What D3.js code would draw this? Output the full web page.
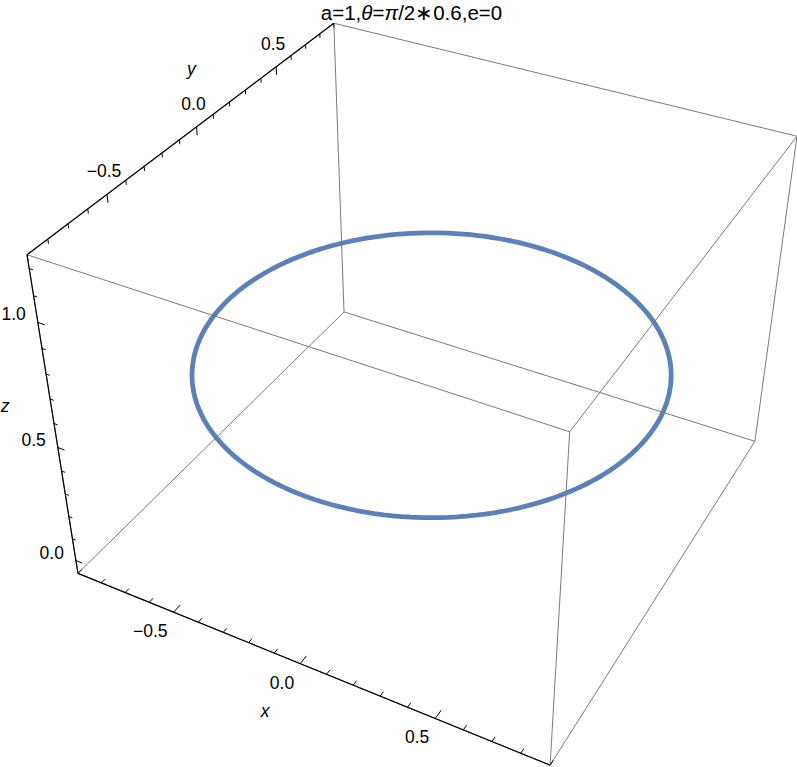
<!DOCTYPE html>
<html>
<head>
<meta charset="utf-8">
<script src="https://cdn.jsdelivr.net/npm/d3@7"></script>
<style>
  body { margin: 0; background: #fff; }
  text { font-family: "Liberation Sans", Arial, Helvetica, sans-serif; fill: #000; }
</style>
</head>
<body>
<div id="chart"></div>
<script>
// Title and curve parameters
const title = "a=1,θ=π/2∗0.6,e=0";
const a = 1;
const theta = Math.PI / 2 * 0.6;

// Plot ranges of the box
const xDomain = [-0.9, 0.9];
const yDomain = [-0.9, 0.9];
const zDomain = [-0.06, 1.25];

// Labelled ticks
const xMajor = [-0.5, 0.0, 0.5];
const yMajor = [-0.5, 0.0, 0.5];
const zMajor = [0.0, 0.5, 1.0];
const minorStep = 0.1;

// Ring: radius and height on the sphere of radius a
const ringRadius = a * Math.sin(theta);
const ringHeight = a * Math.cos(theta);

const width = 797, height = 767;

// where the 8 box corners land on screen (camera calibration)
const boxAnchors = [
  { c: [0, 0, 0], p: [78, 573.3] },
  { c: [1, 0, 0], p: [550, 765] },
  { c: [0, 1, 0], p: [344, 311.7] },
  { c: [1, 1, 0], p: [755, 441.7] },
  { c: [0, 0, 1], p: [26.8, 255] },
  { c: [1, 0, 1], p: [570, 431.7] },
  { c: [0, 1, 1], p: [334, 23.3] },
  { c: [1, 1, 1], p: [796.7, 136] }
];

const x = d3.scaleLinear().domain(xDomain).range([0, 1]);
const y = d3.scaleLinear().domain(yDomain).range([0, 1]);
const z = d3.scaleLinear().domain(zDomain).range([0, 1]);

// fit a 3x4 perspective matrix to the anchors (least squares)
function solve(A, b) {
  const n = b.length;
  const M = A.map((row, i) => row.concat([b[i]]));
  for (let c = 0; c < n; c++) {
    let p = c;
    for (let r = c + 1; r < n; r++) if (Math.abs(M[r][c]) > Math.abs(M[p][c])) p = r;
    [M[c], M[p]] = [M[p], M[c]];
    for (let r = 0; r < n; r++) {
      if (r === c) continue;
      const f = M[r][c] / M[c][c];
      for (let k = c; k <= n; k++) M[r][k] -= f * M[c][k];
    }
  }
  return M.map((row, i) => row[n] / row[i]);
}

const rows = [], rhs = [];
boxAnchors.forEach(({ c, p }) => {
  const [X, Y, Z] = c, [u, v] = p;
  rows.push([X, Y, Z, 1, 0, 0, 0, 0, -u * X, -u * Y, -u * Z]); rhs.push(u);
  rows.push([0, 0, 0, 0, X, Y, Z, 1, -v * X, -v * Y, -v * Z]); rhs.push(v);
});
const AtA = d3.range(11).map(i => d3.range(11).map(j => d3.sum(rows, r => r[i] * r[j])));
const Atb = d3.range(11).map(i => d3.sum(rows, (r, k) => r[i] * rhs[k]));
const P = solve(AtA, Atb);

function projN(X, Y, Z) {
  const w = P[8] * X + P[9] * Y + P[10] * Z + 1;
  return [(P[0] * X + P[1] * Y + P[2] * Z + P[3]) / w,
          (P[4] * X + P[5] * Y + P[6] * Z + P[7]) / w];
}
const project = (px, py, pz) => projN(x(px), y(py), z(pz));

const svg = d3.select("#chart").append("svg")
  .attr("width", width)
  .attr("height", height);

const line = d3.line();

// the ring
const ring = d3.range(0, 361, 2).map(t => {
  const ph = t * Math.PI / 180;
  return project(ringRadius * Math.cos(ph), ringRadius * Math.sin(ph), ringHeight);
});
svg.append("path")
  .attr("d", line(ring))
  .attr("fill", "none")
  .attr("stroke", "#5E81B5")
  .attr("stroke-width", 4.8)
  .attr("stroke-linejoin", "round");

// box edges
const edges = [];
[0, 1].forEach(i => [0, 1].forEach(j => {
  edges.push([[0, i, j], [1, i, j]]);
  edges.push([[i, 0, j], [i, 1, j]]);
  edges.push([[i, j, 0], [i, j, 1]]);
}));
svg.append("g").selectAll("path")
  .data(edges)
  .join("path")
  .attr("d", d => line(d.map(c => projN(...c))))
  .attr("stroke", "#7a7a7a")
  .attr("stroke-width", 1)
  .attr("fill", "none");

// axes
const axes = [
  { name: "x", dom: xDomain, major: xMajor,
    pt: v => project(v, yDomain[0], zDomain[0]),
    tip: (v, L) => projN(x(v), L, 0), len: [0.022, 0.012],
    label: p => ({ x: p[0] - 6, y: p[1] + 19, anchor: "end" }),
    title: [-35, 47] },
  { name: "y", dom: yDomain, major: yMajor,
    pt: v => project(xDomain[0], v, zDomain[1]),
    tip: (v, L) => projN(0, y(v), 1 - L), len: [0.024, 0.013],
    label: p => ({ x: p[0] - 3, y: p[1] - 23, anchor: "middle" }),
    title: [-5, -58] },
  { name: "z", dom: zDomain, major: zMajor,
    pt: v => project(xDomain[0], yDomain[0], v),
    tip: (v, L) => projN(L, 0, z(v)), len: [0.015, 0.008],
    label: p => ({ x: p[0] - 12, y: p[1] - 8, anchor: "end" }),
    title: [-49, -19] }
];

axes.forEach(ax => {
  const g = svg.append("g");
  g.append("path")
    .attr("d", line([ax.pt(ax.dom[0]), ax.pt(ax.dom[1])]))
    .attr("stroke", "#000")
    .attr("stroke-width", 1.2)
    .attr("fill", "none");

  const lo = Math.ceil(ax.dom[0] / minorStep - 1e-6), hi = Math.floor(ax.dom[1] / minorStep + 1e-6);
  const ticks = d3.range(lo, hi + 1).map(k => +(k * minorStep).toFixed(2));
  g.selectAll(".tick")
    .data(ticks)
    .join("path")
    .attr("class", "tick")
    .attr("d", v => {
      const isMajor = ax.major.some(m => Math.abs(m - v) < 1e-6);
      return line([ax.pt(v), ax.tip(v, isMajor ? ax.len[0] : ax.len[1])]);
    })
    .attr("stroke", "#000")
    .attr("stroke-width", 1)
    .attr("fill", "none");

  g.selectAll(".lab")
    .data(ax.major)
    .join("text")
    .attr("class", "lab")
    .each(function (v) {
      const l = ax.label(ax.pt(v));
      d3.select(this).attr("x", l.x).attr("y", l.y).attr("text-anchor", l.anchor);
    })
    .attr("dominant-baseline", "central")
    .attr("font-size", 17.5)
    .text(v => v < 0 ? "\u2212" + Math.abs(v).toFixed(1) : v.toFixed(1));

  const mid = ax.pt((ax.dom[0] + ax.dom[1]) / 2);
  g.append("text")
    .attr("x", mid[0] + ax.title[0])
    .attr("y", mid[1] + ax.title[1])
    .attr("text-anchor", "middle")
    .attr("dominant-baseline", "central")
    .attr("font-size", 17.5)
    .attr("font-style", "italic")
    .text(ax.name);
});

// title, greek letters in italic
const titleText = svg.append("text")
  .attr("x", 411.5)
  .attr("y", 12)
  .attr("text-anchor", "middle")
  .attr("dominant-baseline", "central")
  .attr("font-size", 20.5);
titleText.selectAll("tspan")
  .data(title.split(/([θπ])/).filter(s => s.length))
  .join("tspan")
  .attr("font-style", s => /[θπ]/.test(s) ? "italic" : null)
  .text(s => s);
</script>
</body>
</html>
